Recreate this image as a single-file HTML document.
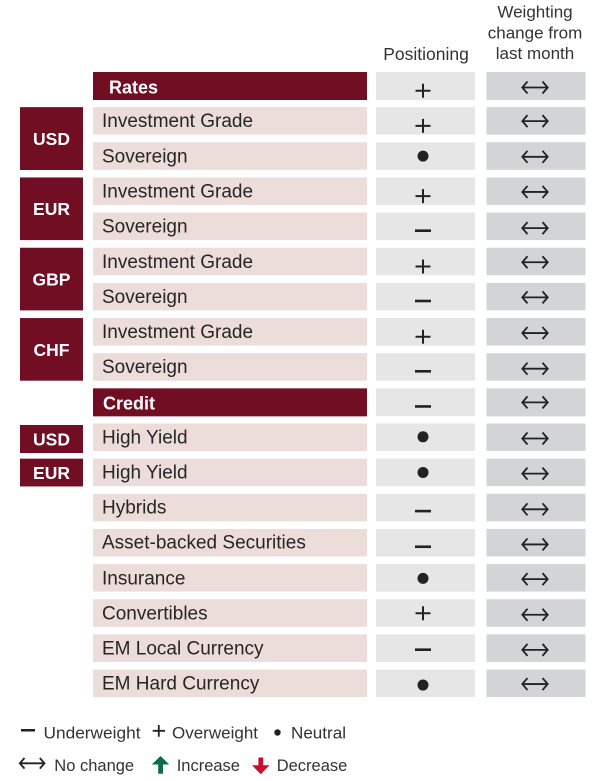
<!DOCTYPE html>
<html><head><meta charset="utf-8"><style>
html,body{margin:0;padding:0;background:#fff;}
svg{display:block;}
text{font-family:"Liberation Sans",sans-serif;}
.l{font-size:19px;fill:#262626;}
.h{font-size:18px;font-weight:bold;fill:#fff;}
.g{font-size:17.5px;font-weight:bold;fill:#fff;text-anchor:middle;}
.hd{font-size:17px;fill:#333;text-anchor:middle;}
.lg{font-size:16.5px;fill:#333;}
.ar{fill:none;stroke:#222;stroke-width:1.8;}
.pl{fill:none;stroke:#222;stroke-width:2;}
</style></head><body>
<svg width="600" height="781" viewBox="0 0 600 781" xmlns="http://www.w3.org/2000/svg">
<!-- headers -->
<text class="hd" x="426" y="60" style="font-size:17.5px">Positioning</text>
<text class="hd" x="535" y="17.7">Weighting</text>
<text class="hd" x="535" y="38.3">change from</text>
<text class="hd" x="535" y="59">last month</text>

<!-- group boxes -->
<rect x="20" y="107.15" width="63" height="62.85" fill="#720e24"/>
<text class="g" x="51.5" y="145">USD</text>
<rect x="20" y="177.45" width="63" height="62.65" fill="#720e24"/>
<text class="g" x="51.5" y="215">EUR</text>
<rect x="20" y="247.75" width="63" height="62.65" fill="#720e24"/>
<text class="g" x="51.5" y="285.5">GBP</text>
<rect x="20" y="318.05" width="63" height="62.65" fill="#720e24"/>
<text class="g" x="51.5" y="356">CHF</text>
<rect x="20" y="425" width="63" height="28" fill="#720e24"/>
<text class="g" x="51.5" y="445.5">USD</text>
<rect x="20" y="458.65" width="63" height="27.8" fill="#720e24"/>
<text class="g" x="51.5" y="479">EUR</text>

<!-- Row 0 Rates -->
<g transform="translate(0,72)">
<rect x="93" width="274" height="28" fill="#720e24"/>
<rect x="376" width="99" height="28" fill="#e6e6e6"/>
<rect x="486.5" width="99" height="28" fill="#d3d4d6"/>
<text class="h" x="109" y="21.3">Rates</text>
<path class="pl" d="M423,11.7 V25.7 M415.5,18.7 H430.5"/>
<path class="ar" d="M527.5,9.5 L522.3,15.5 L527.5,21.5 M522.5,15.5 H547.5 M542.5,9.5 L547.7,15.5 L542.5,21.5"/>
</g>

<!-- Row 1 -->
<g transform="translate(0,107.15)">
<rect x="93" width="274" height="27.5" fill="#ecdcda"/>
<rect x="376" width="99" height="27.5" fill="#e6e6e6"/>
<rect x="486.5" width="99" height="27.5" fill="#d3d4d6"/>
<text class="l" x="102" y="20">Investment Grade</text>
<path class="pl" d="M423,11.7 V25.7 M415.5,18.7 H430.5"/>
<path class="ar" d="M527.5,8 L522.3,14 L527.5,20 M522.5,14 H547.5 M542.5,8 L547.7,14 L542.5,20"/>
</g>

<!-- Row 2 -->
<g transform="translate(0,142.3)">
<rect x="93" width="274" height="27.5" fill="#ecdcda"/>
<rect x="376" width="99" height="27.5" fill="#e6e6e6"/>
<rect x="486.5" width="99" height="27.5" fill="#d3d4d6"/>
<text class="l" x="102" y="20">Sovereign</text>
<circle cx="423" cy="13.8" r="5.5" fill="#222"/>
<path class="ar" d="M527.5,8.5 L522.3,14.5 L527.5,20.5 M522.5,14.5 H547.5 M542.5,8.5 L547.7,14.5 L542.5,20.5"/>
</g>

<!-- Row 3 -->
<g transform="translate(0,177.45)">
<rect x="93" width="274" height="27.5" fill="#ecdcda"/>
<rect x="376" width="99" height="27.5" fill="#e6e6e6"/>
<rect x="486.5" width="99" height="27.5" fill="#d3d4d6"/>
<text class="l" x="102" y="20">Investment Grade</text>
<path class="pl" d="M423,11.7 V25.7 M415.5,18.7 H430.5"/>
<path class="ar" d="M527.5,8.5 L522.3,14.5 L527.5,20.5 M522.5,14.5 H547.5 M542.5,8.5 L547.7,14.5 L542.5,20.5"/>
</g>

<!-- Row 4 -->
<g transform="translate(0,212.6)">
<rect x="93" width="274" height="27.5" fill="#ecdcda"/>
<rect x="376" width="99" height="27.5" fill="#e6e6e6"/>
<rect x="486.5" width="99" height="27.5" fill="#d3d4d6"/>
<text class="l" x="102" y="20">Sovereign</text>
<rect x="415" y="16.8" width="16" height="2.6" fill="#222"/>
<path class="ar" d="M527.5,9.5 L522.3,15.5 L527.5,21.5 M522.5,15.5 H547.5 M542.5,9.5 L547.7,15.5 L542.5,21.5"/>
</g>

<!-- Row 5 -->
<g transform="translate(0,247.75)">
<rect x="93" width="274" height="27.5" fill="#ecdcda"/>
<rect x="376" width="99" height="27.5" fill="#e6e6e6"/>
<rect x="486.5" width="99" height="27.5" fill="#d3d4d6"/>
<text class="l" x="102" y="20">Investment Grade</text>
<path class="pl" d="M423,11.7 V25.7 M415.5,18.7 H430.5"/>
<path class="ar" d="M527.5,8.5 L522.3,14.5 L527.5,20.5 M522.5,14.5 H547.5 M542.5,8.5 L547.7,14.5 L542.5,20.5"/>
</g>

<!-- Row 6 -->
<g transform="translate(0,282.9)">
<rect x="93" width="274" height="27.5" fill="#ecdcda"/>
<rect x="376" width="99" height="27.5" fill="#e6e6e6"/>
<rect x="486.5" width="99" height="27.5" fill="#d3d4d6"/>
<text class="l" x="102" y="20">Sovereign</text>
<rect x="415" y="16.8" width="16" height="2.6" fill="#222"/>
<path class="ar" d="M527.5,8.5 L522.3,14.5 L527.5,20.5 M522.5,14.5 H547.5 M542.5,8.5 L547.7,14.5 L542.5,20.5"/>
</g>

<!-- Row 7 -->
<g transform="translate(0,318.05)">
<rect x="93" width="274" height="27.5" fill="#ecdcda"/>
<rect x="376" width="99" height="27.5" fill="#e6e6e6"/>
<rect x="486.5" width="99" height="27.5" fill="#d3d4d6"/>
<text class="l" x="102" y="20">Investment Grade</text>
<path class="pl" d="M423,11.7 V25.7 M415.5,18.7 H430.5"/>
<path class="ar" d="M527.5,9 L522.3,15 L527.5,21 M522.5,15 H547.5 M542.5,9 L547.7,15 L542.5,21"/>
</g>

<!-- Row 8 -->
<g transform="translate(0,353.2)">
<rect x="93" width="274" height="27.5" fill="#ecdcda"/>
<rect x="376" width="99" height="27.5" fill="#e6e6e6"/>
<rect x="486.5" width="99" height="27.5" fill="#d3d4d6"/>
<text class="l" x="102" y="20">Sovereign</text>
<rect x="415" y="16.8" width="16" height="2.6" fill="#222"/>
<path class="ar" d="M527.5,9.5 L522.3,15.5 L527.5,21.5 M522.5,15.5 H547.5 M542.5,9.5 L547.7,15.5 L542.5,21.5"/>
</g>

<!-- Row 9 Credit -->
<g transform="translate(0,388.35)">
<rect x="93" width="274" height="28" fill="#720e24"/>
<rect x="376" width="99" height="27.5" fill="#e6e6e6"/>
<rect x="486.5" width="99" height="28" fill="#d3d4d6"/>
<text class="h" x="103" y="21.3">Credit</text>
<rect x="415" y="16.8" width="16" height="2.6" fill="#222"/>
<path class="ar" d="M527.5,8 L522.3,14 L527.5,20 M522.5,14 H547.5 M542.5,8 L547.7,14 L542.5,20"/>
</g>

<!-- Row 10 -->
<g transform="translate(0,423.5)">
<rect x="93" width="274" height="27.5" fill="#ecdcda"/>
<rect x="376" width="99" height="27.5" fill="#e6e6e6"/>
<rect x="486.5" width="99" height="27.5" fill="#d3d4d6"/>
<text class="l" x="102" y="20">High Yield</text>
<circle cx="423" cy="13.3" r="5.5" fill="#222"/>
<path class="ar" d="M527.5,9 L522.3,15 L527.5,21 M522.5,15 H547.5 M542.5,9 L547.7,15 L542.5,21"/>
</g>

<!-- Row 11 -->
<g transform="translate(0,458.65)">
<rect x="93" width="274" height="27.5" fill="#ecdcda"/>
<rect x="376" width="99" height="27.5" fill="#e6e6e6"/>
<rect x="486.5" width="99" height="27.5" fill="#d3d4d6"/>
<text class="l" x="102" y="20">High Yield</text>
<circle cx="423" cy="13.8" r="5.5" fill="#222"/>
<path class="ar" d="M527.5,9 L522.3,15 L527.5,21 M522.5,15 H547.5 M542.5,9 L547.7,15 L542.5,21"/>
</g>

<!-- Row 12 -->
<g transform="translate(0,493.8)">
<rect x="93" width="274" height="27.5" fill="#ecdcda"/>
<rect x="376" width="99" height="27.5" fill="#e6e6e6"/>
<rect x="486.5" width="99" height="27.5" fill="#d3d4d6"/>
<text class="l" x="102" y="19.5">Hybrids</text>
<rect x="415" y="16" width="16" height="2.6" fill="#222"/>
<path class="ar" d="M527.5,9.5 L522.3,15.5 L527.5,21.5 M522.5,15.5 H547.5 M542.5,9.5 L547.7,15.5 L542.5,21.5"/>
</g>

<!-- Row 13 -->
<g transform="translate(0,528.95)">
<rect x="93" width="274" height="27.5" fill="#ecdcda"/>
<rect x="376" width="99" height="27.5" fill="#e6e6e6"/>
<rect x="486.5" width="99" height="27.5" fill="#d3d4d6"/>
<text class="l" x="102" y="19.5">Asset-backed Securities</text>
<rect x="415" y="16.5" width="16" height="2.6" fill="#222"/>
<path class="ar" d="M527.5,9.5 L522.3,15.5 L527.5,21.5 M522.5,15.5 H547.5 M542.5,9.5 L547.7,15.5 L542.5,21.5"/>
</g>

<!-- Row 14 -->
<g transform="translate(0,564.1)">
<rect x="93" width="274" height="27.5" fill="#ecdcda"/>
<rect x="376" width="99" height="27.5" fill="#e6e6e6"/>
<rect x="486.5" width="99" height="27.5" fill="#d3d4d6"/>
<text class="l" x="102" y="20.5">Insurance</text>
<circle cx="423" cy="14.3" r="5.5" fill="#222"/>
<path class="ar" d="M527.5,9 L522.3,15 L527.5,21 M522.5,15 H547.5 M542.5,9 L547.7,15 L542.5,21"/>
</g>

<!-- Row 15 -->
<g transform="translate(0,599.25)">
<rect x="93" width="274" height="27.5" fill="#ecdcda"/>
<rect x="376" width="99" height="27.5" fill="#e6e6e6"/>
<rect x="486.5" width="99" height="27.5" fill="#d3d4d6"/>
<text class="l" x="102" y="20">Convertibles</text>
<path class="pl" d="M423,7 V21 M415.5,14 H430.5"/>
<path class="ar" d="M527.5,9.5 L522.3,15.5 L527.5,21.5 M522.5,15.5 H547.5 M542.5,9.5 L547.7,15.5 L542.5,21.5"/>
</g>

<!-- Row 16 -->
<g transform="translate(0,634.4)">
<rect x="93" width="274" height="27.5" fill="#ecdcda"/>
<rect x="376" width="99" height="27.5" fill="#e6e6e6"/>
<rect x="486.5" width="99" height="27.5" fill="#d3d4d6"/>
<text class="l" x="102" y="20">EM Local Currency</text>
<rect x="415" y="14" width="16" height="2.6" fill="#222"/>
<path class="ar" d="M527.5,9.5 L522.3,15.5 L527.5,21.5 M522.5,15.5 H547.5 M542.5,9.5 L547.7,15.5 L542.5,21.5"/>
</g>

<!-- Row 17 -->
<g transform="translate(0,669.55)">
<rect x="93" width="274" height="27.5" fill="#ecdcda"/>
<rect x="376" width="99" height="27.5" fill="#e6e6e6"/>
<rect x="486.5" width="99" height="27.5" fill="#d3d4d6"/>
<text class="l" x="102" y="20">EM Hard Currency</text>
<circle cx="423" cy="15.5" r="5.5" fill="#222"/>
<path class="ar" d="M527.5,8.5 L522.3,14.5 L527.5,20.5 M522.5,14.5 H547.5 M542.5,8.5 L547.7,14.5 L542.5,20.5"/>
</g>

<!-- Legend line 1 -->
<rect x="21" y="729" width="14" height="2.5" fill="#222"/>
<text class="lg" x="43.5" y="738.3" textLength="97" lengthAdjust="spacingAndGlyphs">Underweight</text>
<path d="M158.8,725 V736.7 M152.7,730.8 H165" fill="none" stroke="#222" stroke-width="1.8"/>
<text class="lg" x="172" y="738.3" textLength="86" lengthAdjust="spacingAndGlyphs">Overweight</text>
<circle cx="277.5" cy="732.5" r="3.2" fill="#222"/>
<text class="lg" x="291" y="738.3" textLength="55" lengthAdjust="spacingAndGlyphs">Neutral</text>

<!-- Legend line 2 -->
<path d="M24.5,758 L19.8,763.3 L24.5,768.6 M20,763.3 H44.5 M39.8,758 L44.5,763.3 L39.8,768.6" fill="none" stroke="#222" stroke-width="1.8"/>
<text class="lg" x="54.3" y="771">No change</text>
<polygon points="160.5,756 169.2,764.5 163,764.5 163,773.8 158.2,773.8 158.2,764.5 151.8,764.5" fill="#0b6b4b"/>
<text class="lg" x="176.7" y="771">Increase</text>
<polygon points="258.4,757.5 263.2,757.5 263.2,765.3 269.5,765.3 260.8,774.2 252,765.3 258.4,765.3" fill="#c8102e"/>
<text class="lg" x="276.7" y="771">Decrease</text>
</svg>
</body></html>
